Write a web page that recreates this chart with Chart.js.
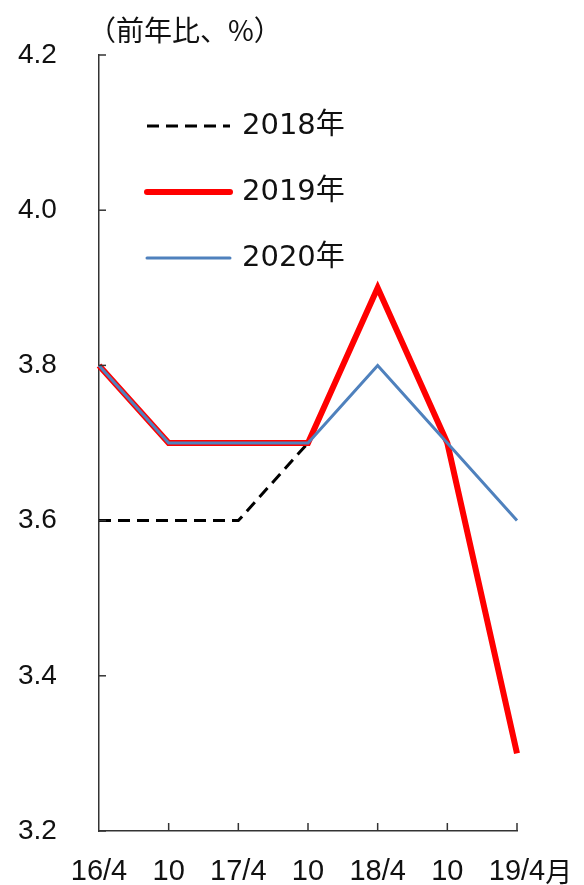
<!DOCTYPE html>
<html>
<head>
<meta charset="utf-8">
<script src="https://cdn.jsdelivr.net/npm/chart.js@4.4.1/dist/chart.umd.min.js"></script>
<style>
  html, body { margin: 0; padding: 0; background: #fff; }
  #wrap { width: 584px; height: 885px; position: relative; }
</style>
</head>
<body>
<div id="wrap"><canvas id="chart"></canvas></div>
<script>
// データ
const labels = ['16/4', '10', '17/4', '10', '18/4', '10', '19/4'];
const monthSuffix = '月';
const y2018 = [3.6, 3.6, 3.6, 3.7, null, null, null];
const y2019 = [3.8, 3.7, 3.7, 3.7, 3.9, 3.7, 3.3];
const y2020 = [3.8, 3.7, 3.7, 3.7, 3.8, 3.7, 3.6];
const yTicks = [3.2, 3.4, 3.6, 3.8, 4.0, 4.2];

const FONT = '"Liberation Sans", "Noto Sans CJK JP", sans-serif';
const FONT_LEG = '"DejaVu Sans", "Noto Sans CJK JP", sans-serif';
const AXIS_COLOR = '#333';

// 単位タイトルと凡例、内向きの目盛りを描く
const decorPlugin = {
    id: 'decor',
    afterDraw(chart) {
        const { ctx, chartArea, scales } = chart;
        ctx.save();

        // 単位
        ctx.fillStyle = '#111';
        ctx.font = '28px "Noto Sans CJK JP", sans-serif';
        ctx.textBaseline = 'middle';
        ctx.textAlign = 'left';
        ctx.fillText('（前年比、%）', 88, 30);

        // 目盛り（内向き）
        ctx.strokeStyle = AXIS_COLOR;
        ctx.lineWidth = 1.5;
        scales.x.ticks.forEach((t, i) => {
            if (i === 0) return;
            const x = scales.x.getPixelForTick(i);
            ctx.beginPath();
            ctx.moveTo(x, chartArea.bottom);
            ctx.lineTo(x, chartArea.bottom - 8);
            ctx.stroke();
        });
        scales.y.ticks.forEach((t, i) => {
            const y = scales.y.getPixelForTick(i);
            ctx.beginPath();
            ctx.moveTo(chartArea.left, y);
            ctx.lineTo(chartArea.left + 7, y);
            ctx.stroke();
        });

        // 最後のラベルの「月」
        const last = scales.x.ticks.length - 1;
        ctx.font = '29px ' + FONT;
        const w = ctx.measureText(labels[last]).width;
        ctx.fillStyle = '#111';
        ctx.textBaseline = 'top';
        ctx.font = '27px "Noto Sans CJK JP", sans-serif';
        ctx.fillText(monthSuffix, scales.x.getPixelForTick(last) + w / 2, chartArea.bottom + 27);

        // 凡例
        const rows = [126, 192, 258];
        chart.data.datasets.forEach((ds, i) => {
            const y = rows[i];
            ctx.beginPath();
            ctx.setLineDash(ds.borderDash || []);
            ctx.strokeStyle = ds.borderColor;
            ctx.lineWidth = ds.borderWidth;
            ctx.lineCap = ds.borderDash ? 'butt' : 'round';
            ctx.moveTo(147, y);
            ctx.lineTo(230, y);
            ctx.stroke();
            ctx.setLineDash([]);
            ctx.fillStyle = '#111';
            ctx.font = '29px ' + FONT_LEG;
            ctx.textBaseline = 'middle';
            ctx.fillText(ds.label, 242, y);
        });

        ctx.restore();
    }
};

new Chart(document.getElementById('chart'), {
    type: 'line',
    data: {
        labels: labels,
        datasets: [
            {
                label: '2018年',
                data: y2018,
                borderColor: '#000',
                borderWidth: 3,
                borderDash: [12, 7],
                pointRadius: 0,
                tension: 0,
                order: 3,
            },
            {
                label: '2019年',
                data: y2019,
                borderColor: '#ff0000',
                borderWidth: 6,
                pointRadius: 0,
                tension: 0,
                order: 2,
            },
            {
                label: '2020年',
                data: y2020,
                borderColor: '#4f81bd',
                borderWidth: 3,
                pointRadius: 0,
                tension: 0,
                order: 1,
            },
        ],
    },
    options: {
        responsive: true,
        maintainAspectRatio: false,
        animation: false,
        layout: { padding: { left: 18, right: 67, top: 55, bottom: 0 } },
        plugins: {
            legend: { display: false },
            tooltip: { enabled: false },
        },
        scales: {
            x: {
                offset: false,
                grid: { display: false, drawTicks: false },
                border: { display: true, color: AXIS_COLOR, width: 1.5 },
                ticks: {
                    color: '#111',
                    font: { size: 29, family: FONT },
                    padding: 24,
                    maxRotation: 0,
                    autoSkip: false,
                },
                afterFit(scale) { scale.height = 54; },
            },
            y: {
                min: 3.2,
                max: 4.2,
                grid: { display: false, drawTicks: false },
                border: { display: true, color: AXIS_COLOR, width: 1.5 },
                afterBuildTicks(scale) {
                    scale.ticks = yTicks.map(v => ({ value: v }));
                },
                ticks: {
                    color: '#111',
                    font: { size: 28, family: FONT },
                    padding: 0,
                    crossAlign: 'far',
                    callback: v => Number(v).toFixed(1),
                },
                afterFit(scale) { scale.width = 81; },
            },
        },
    },
    plugins: [decorPlugin],
});
</script>
</body>
</html>
